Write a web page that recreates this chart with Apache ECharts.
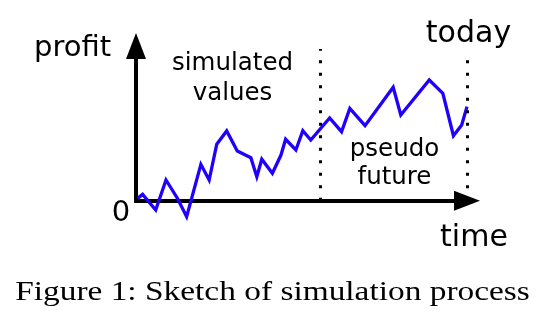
<!DOCTYPE html>
<html>
<head>
<meta charset="utf-8">
<script src="https://cdn.jsdelivr.net/npm/echarts@6/dist/echarts.min.js"></script>
<style>
html,body{margin:0;padding:0;background:#fff;}
#chart{width:558px;height:330px;}
</style>
</head>
<body>
<div id="chart"></div>
<script>
// time (arbitrary units, 0..100 = today) and simulated profit
const timeValues = [0.5, 2.0, 5.95, 9.06, 12.5, 15.3, 19.6, 22.1, 24.4, 27.4, 30.6, 34.7, 36.5, 38.0, 41.2, 43.8, 45.2, 48.3, 50.4, 52.8, 58.5, 62.1, 64.6, 69.2, 77.7, 80.0, 88.6, 92.7, 95.9, 98.4, 100];
const profitValues = [1.5, 4.1, -6.0, 13.4, 1.6, -10.3, 23.5, 13.4, 36.5, 45.1, 32.1, 27.8, 15.5, 26.8, 17.7, 29.5, 39.7, 32.8, 45.2, 39.2, 53.5, 44.6, 59.7, 48.5, 73.3, 55.4, 78.0, 69.4, 42.0, 48.9, 60.8];
// vertical dotted markers: [time, top of line]
const markerTimes = [55.8, 100];
const markerTops = [98, 95.5];
const labels = {
  y: 'profit', x: 'time', zero: '0', today: 'today',
  past: ['simulated', 'values'], future: ['pseudo', 'future'],
  caption: 'Figure 1: Sketch of simulation process'
};

const chart = echarts.init(document.getElementById('chart'), null, {renderer: 'canvas'});
const sans = 'DejaVu Sans';
const blue = '#1f00ff';
const data = timeValues.map((t, i) => [t, profitValues[i]]);
const markData = markerTimes.map((t, i) => [{coord: [t, 0]}, {coord: [t, markerTops[i]]}]);

function txt(text, x, y, size, align, family, sx) {
  return {type: 'text', x: x, y: y, silent: true, scaleX: sx || 1,
    style: {text: text, fill: '#000', font: size + 'px "' + (family || sans) + '"', textAlign: align || 'center', textVerticalAlign: 'middle'}};
}

chart.setOption({
  animation: false,
  backgroundColor: '#fff',
  grid: {left: 136, right: 91, top: 46, bottom: 129.3},
  xAxis: {
    type: 'value', min: 0, max: 100,
    axisLine: {show: true, onZero: false, symbol: ['none', 'triangle'], symbolSize: [20, 26],
      lineStyle: {color: '#000', width: 4, cap: 'square'}},
    axisTick: {show: false}, axisLabel: {show: false}, splitLine: {show: false}
  },
  yAxis: {
    type: 'value', min: 0, max: 100,
    axisLine: {show: true, symbol: ['none', 'triangle'], symbolSize: [20, 26],
      lineStyle: {color: '#000', width: 4, cap: 'square'}},
    axisTick: {show: false}, axisLabel: {show: false}, splitLine: {show: false}
  },
  series: [{
    type: 'line', data: data, clip: false, symbol: 'none', z: 1,
    lineStyle: {color: blue, width: 3.3, join: 'miter'},
    markLine: {
      silent: true, symbol: ['none', 'none'], label: {show: false},
      lineStyle: {color: '#000', width: 3, type: [3, 9.5], cap: 'butt'},
      data: markData
    }
  }],
  graphic: [
    txt(labels.y, 34, 48.6, 29, 'left'),
    txt(labels.today, 468.5, 34, 30),
    txt(labels.x, 474, 238.3, 30),
    txt(labels.zero, 121, 213.3, 29),
    txt(labels.past[0], 232.5, 63.3, 24.5),
    txt(labels.past[1], 232.5, 93.3, 24.5),
    txt(labels.future[0], 394.5, 149.3, 24.5),
    txt(labels.future[1], 394.5, 177.6, 24.5),
    txt(labels.caption, 272.5, 293.5, 26.5, 'center', 'Liberation Serif', 1.26)
  ]
});
</script>
</body>
</html>
